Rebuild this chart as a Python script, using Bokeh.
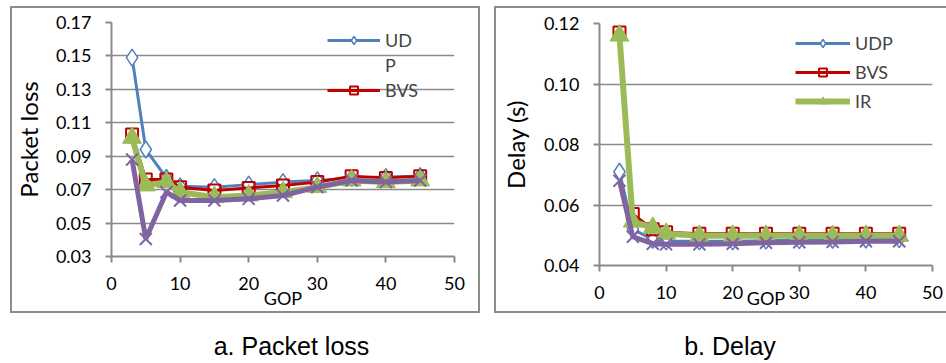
from bokeh.plotting import figure
from bokeh.models import (FixedTicker, PrintfTickFormatter, Legend, LegendItem,
                          Range1d, Div, Spacer)
from bokeh.layouts import row, column
from bokeh.embed import file_html
from bokeh.resources import INLINE

# ---------------- data ----------------
gop = [3, 5, 8, 10, 15, 20, 25, 30, 35, 40, 45]

loss_udp = [0.149, 0.094, 0.077, 0.072, 0.0715, 0.073, 0.0745, 0.0755, 0.077, 0.0775, 0.078]
loss_bvs = [0.103, 0.076, 0.076, 0.0715, 0.0695, 0.071, 0.0725, 0.0745, 0.078, 0.077, 0.078]
loss_ir = [0.101, 0.0725, 0.0745, 0.0685, 0.0655, 0.0665, 0.0685, 0.0715, 0.0755, 0.0745, 0.0755]
loss_4 = [0.088, 0.0405, 0.0685, 0.0635, 0.0635, 0.0645, 0.0665, 0.0715, 0.0755, 0.0745, 0.0755]

delay_udp = [0.071, 0.052, 0.0485, 0.048, 0.048, 0.048, 0.0482, 0.0484, 0.0485, 0.0486, 0.0487]
delay_bvs = [0.117, 0.057, 0.052, 0.051, 0.0505, 0.0505, 0.0505, 0.0505, 0.0505, 0.0505, 0.0505]
delay_ir = [0.116, 0.0545, 0.0525, 0.0505, 0.0498, 0.0498, 0.0498, 0.0498, 0.0498, 0.0498, 0.0498]
delay_4 = [0.068, 0.0495, 0.0472, 0.047, 0.047, 0.0472, 0.0475, 0.0477, 0.0478, 0.048, 0.048]

x_lo, x_hi = 0, 50
x_ticks = [0, 10, 20, 30, 40, 50]
loss_lo, loss_hi = 0.03, 0.17
loss_ticks = [0.03, 0.05, 0.07, 0.09, 0.11, 0.13, 0.15, 0.17]
delay_lo, delay_hi = 0.04, 0.12
delay_ticks = [0.04, 0.06, 0.08, 0.10, 0.12]

BLUE = "#4F81BD"
RED = "#C00000"
GREEN = "#9BBB59"
PURPLE = "#8064A2"
GREY = "#8a8a8a"
FONT = "Lato"


def make_fig(width, height, ylo, yhi, yticks, ylabel, borders, ystand, xstand):
    p = figure(width=width, height=height, output_backend="svg", toolbar_location=None,
               x_range=Range1d(x_lo, x_hi), y_range=Range1d(ylo, yhi),
               min_border_left=borders[0], min_border_right=borders[1],
               min_border_top=borders[2], min_border_bottom=borders[3])
    p.border_fill_color = None
    p.background_fill_color = None
    p.outline_line_color = None
    p.xaxis.ticker = FixedTicker(ticks=x_ticks)
    p.yaxis.ticker = FixedTicker(ticks=yticks)
    p.yaxis.formatter = PrintfTickFormatter(format="%.2f")
    p.xgrid.grid_line_color = None
    p.ygrid.grid_line_color = GREY
    p.ygrid.grid_line_width = 1.6
    for ax in (p.xaxis[0], p.yaxis[0]):
        ax.axis_line_color = GREY
        ax.axis_line_width = 2
        ax.major_tick_line_color = GREY
        ax.major_tick_line_width = 2
        ax.major_tick_in = 0
        ax.major_tick_out = 6
        ax.minor_tick_line_color = None
        ax.major_label_text_font = FONT
        ax.major_label_text_font_size = "18px"
        ax.major_label_text_color = "#000000"
        ax.axis_label_text_font = FONT
        ax.axis_label_text_font_style = "normal"
        ax.axis_label_text_color = "#000000"
    p.xaxis.major_label_standoff = 14
    p.yaxis.major_label_standoff = 14
    p.xaxis.axis_label = "GOP"
    p.xaxis.axis_label_text_font_size = "18px"
    p.xaxis.axis_label_standoff = xstand
    p.yaxis.axis_label = ylabel
    p.yaxis.axis_label_text_font_size = "24px"
    p.yaxis.axis_label_standoff = ystand
    return p


def add_series(p, ys):
    u, b, i, q = ys
    r = {}
    l1 = p.line(gop, u, line_color=BLUE, line_width=3)
    s1 = p.scatter(gop, u, marker="diamond", size=17, fill_color="white",
                   line_color=BLUE, line_width=1.5)
    l2 = p.line(gop, b, line_color=RED, line_width=3)
    s2 = p.scatter(gop, b, marker="square", size=12, fill_alpha=0,
                   line_color=RED, line_width=2)
    l3 = p.line(gop, i, line_color=GREEN, line_width=6)
    s3 = p.scatter(gop, i, marker="triangle", size=19, fill_color=GREEN,
                   line_color=GREEN, line_width=1)
    l4 = p.line(gop, q, line_color=PURPLE, line_width=5)
    s4 = p.scatter(gop, q, marker="x", size=17, line_color=PURPLE, line_width=2)
    r["udp"] = [l1, s1]
    r["bvs"] = [l2, s2]
    r["ir"] = [l3, s3]
    return r


# ---------------- chart a ----------------
pa = make_fig(470, 307, loss_lo, loss_hi, loss_ticks, "Packet loss",
              (100, 26, 16, 57), 10, -6)
ra = add_series(pa, (loss_udp, loss_bvs, loss_ir, loss_4))
dummy = pa.line([], [], line_alpha=0)
leg_a = Legend(items=[LegendItem(label="UD", renderers=ra["udp"]),
                      LegendItem(label="P", renderers=[dummy]),
                      LegendItem(label="BVS", renderers=ra["bvs"])],
               location="top_right", margin=5, padding=0, spacing=0,
               label_height=25, glyph_height=20, glyph_width=53, label_standoff=5,
               label_width=64, label_text_font=FONT, label_text_font_size="18px",
               background_fill_alpha=0, border_line_alpha=0)
pa.add_layout(leg_a)
pa.styles = {"box-shadow": "inset 0 0 0 2px #8c8c8c"}

# ---------------- chart b ----------------
pb = make_fig(452, 307, delay_lo, delay_hi, delay_ticks, "Delay (s)",
              (105, 14, 17, 48), 11, -15)
rb = add_series(pb, (delay_udp, delay_bvs, delay_ir, delay_4))
leg_b = Legend(items=[LegendItem(label="UDP", renderers=rb["udp"]),
                      LegendItem(label="BVS", renderers=rb["bvs"]),
                      LegendItem(label="IR", renderers=rb["ir"])],
               location="top_right", margin=5, padding=0, spacing=0,
               label_height=29, glyph_height=20, glyph_width=55, label_standoff=5,
               label_width=72, label_text_font=FONT, label_text_font_size="18px",
               background_fill_alpha=0, border_line_alpha=0)
pb.add_layout(leg_b)
pb.styles = {"box-shadow": "inset 2px 0 0 0 #8c8c8c, inset 0 2px 0 0 #8c8c8c, inset 0 -2px 0 0 #8c8c8c"}

cap_style = {"font-family": "'Liberation Sans', Arial, sans-serif", "font-size": "25px",
             "line-height": "17px", "text-align": "center", "color": "#000000",
             "white-space": "nowrap", "overflow": "visible", "width": "100%"}
cap_a = Div(text="a. Packet loss", width=573, height=17, styles=cap_style)
cap_b = Div(text="b. Delay", width=284, height=17, styles=cap_style)

layout = column(Spacer(height=6),
                row(Spacer(width=10), column(pa), Spacer(width=14), column(pb)),
                Spacer(height=20),
                row(cap_a, cap_b))

open("out.html", "w").write(file_html(layout, INLINE))
